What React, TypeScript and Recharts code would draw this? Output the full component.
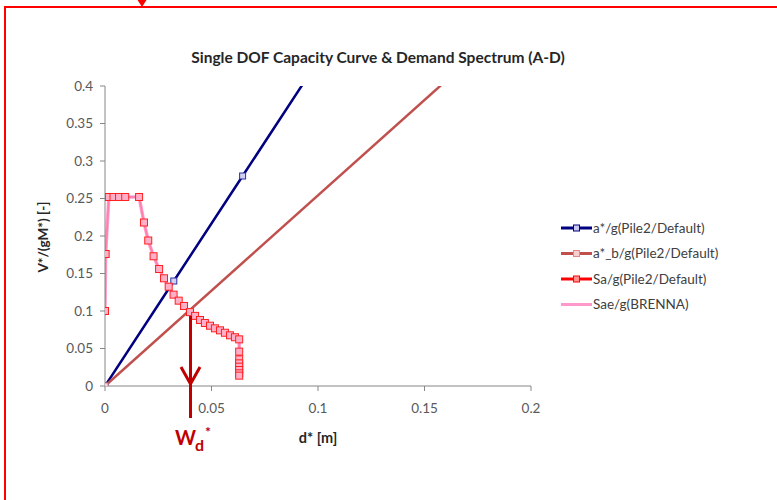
import React from "react";
import { LineChart, Line, XAxis, YAxis, Legend } from "recharts";

// capacity curve a*/g
const capD = [0, 0.0323, 0.0646, 0.0969];
const capA = [0, 0.14, 0.28, 0.42];

// bilinear a*_b/g
const bilD = [0, 0.19];
const bilA = [0, 0.483];

// demand spectrum Sa/g (same as Sae/g BRENNA)
const specD = [
  0, 0.0003, 0.0018, 0.004, 0.0066, 0.0095, 0.016, 0.0183, 0.0203, 0.0228, 0.0254, 0.0277,
  0.0299, 0.0322, 0.0346, 0.0371, 0.0399, 0.0423, 0.0446, 0.0469, 0.0493, 0.0516, 0.054,
  0.0563, 0.0587, 0.061, 0.063, 0.063, 0.063, 0.063, 0.063, 0.063, 0.063, 0.063,
];
const specA = [
  0.1, 0.176, 0.252, 0.252, 0.252, 0.252, 0.252, 0.218, 0.194, 0.173, 0.156, 0.1436,
  0.1324, 0.1218, 0.1138, 0.1067, 0.0985, 0.0935, 0.088, 0.084, 0.0804, 0.0769, 0.0742,
  0.071, 0.0676, 0.065, 0.0622, 0.0458, 0.0356, 0.0302, 0.0258, 0.0213, 0.0169, 0.0138,
];

const xTicks = [0, 0.05, 0.1, 0.15, 0.2];
const yTicks = [0, 0.05, 0.1, 0.15, 0.2, 0.25, 0.3, 0.35, 0.4];

const seriesNames = [
  "a*/g(Pile2/Default)",
  "a*_b/g(Pile2/Default)",
  "Sa/g(Pile2/Default)",
  "Sae/g(BRENNA)",
];

const capacity = capD.map((d, i) => ({ d, v: capA[i] }));
const bilinear = bilD.map((d, i) => ({ d, v: bilA[i] }));
const spectrum = specD.map((d, i) => ({ d, v: specA[i] }));

const FONT = "Lato, 'Open Sans', sans-serif";

const squareDot = (stroke: string, fill: string, s = 6) => (props: any) => {
  const { cx, cy, index } = props;
  if (cx == null || cy == null) return <g key={index} />;
  return (
    <rect key={index} x={cx - s / 2} y={cy - s / 2} width={s} height={s} fill={fill} stroke={stroke} strokeWidth={1} />
  );
};

const legendRows = [
  { name: seriesNames[0], color: "#000080", marker: "#000080", mfill: "#c8c8f0" },
  { name: seriesNames[1], color: "#c0504d", marker: "#e08a88", mfill: "#f4d0d0" },
  { name: seriesNames[2], color: "#ff0000", marker: "#ff0000", mfill: "#ff9090" },
  { name: seriesNames[3], color: "#ff99cc", marker: null, mfill: "" },
];

const LegendBox = () => (
  <svg width={200} height={110}>
    {legendRows.map((r, i) => {
      const y = 8 + i * 25.5;
      return (
        <g key={r.name}>
          <line x1={1} x2={32} y1={y} y2={y} stroke={r.color} strokeWidth={3} />
          {r.marker && (
            <rect x={13.5} y={y - 3} width={6} height={6} fill={r.mfill} stroke={r.marker} strokeWidth={1} />
          )}
          <text x={33} y={y + 4.5} fontSize={13.5} fontFamily={FONT} fill="#404040">
            {r.name}
          </text>
        </g>
      );
    })}
  </svg>
);

export default function App() {
  return (
    <div style={{ position: "absolute", left: 0, top: 0, width: 777, height: 500, background: "#fff" }}>
      <LineChart
        width={777}
        height={500}
        margin={{ top: 86, right: 246, left: 0, bottom: 84 }}
      >
        <XAxis
          type="number"
          dataKey="d"
          domain={[0, 0.2]}
          ticks={xTicks}
          allowDataOverflow
          height={30}
          tickSize={5}
          tickMargin={12}
          stroke="#868686"
          tick={{ fill: "#595959", fontSize: 13.5, fontFamily: FONT }}
        />
        <YAxis
          type="number"
          dataKey="v"
          domain={[0, 0.4]}
          ticks={yTicks}
          allowDataOverflow
          width={105}
          tickSize={5}
          tickMargin={7}
          stroke="#868686"
          tick={{ fill: "#595959", fontSize: 13.5, fontFamily: FONT }}
        />
        <Legend
          layout="vertical"
          align="center"
          verticalAlign="middle"
          wrapperStyle={{ left: 560, top: 220, width: 200, height: 110 }}
          content={() => <LegendBox />}
        />
        <Line
          data={capacity}
          dataKey="v"
          name={seriesNames[0]}
          stroke="#000080"
          strokeWidth={2.5}
          dot={squareDot("#3030a0", "#d0d0f0")}
          isAnimationActive={false}
        />
        <Line
          data={bilinear}
          dataKey="v"
          name={seriesNames[1]}
          stroke="#c0504d"
          strokeWidth={2.5}
          dot={squareDot("#e07a78", "#f6d6d6")}
          isAnimationActive={false}
        />
        <Line
          data={spectrum}
          dataKey="v"
          name={seriesNames[2]}
          stroke="#ff0000"
          strokeWidth={2}
          dot={squareDot("#ff2020", "#ffb0c8", 7)}
          isAnimationActive={false}
        />
        <Line
          data={spectrum}
          dataKey="v"
          name={seriesNames[3]}
          stroke="#ff99cc"
          strokeWidth={3.5}
          strokeOpacity={0.85}
          dot={false}
          isAnimationActive={false}
        />
      </LineChart>
      <svg
        width={777}
        height={500}
        style={{ position: "absolute", left: 0, top: 0, pointerEvents: "none" }}
      >
        <path d="M 5 502 L 5 7 L 779 7" fill="none" stroke="#ff0000" strokeWidth={2} />
        <polygon points="137.5,0 146.5,0 142,7" fill="#ff0000" />
        <text x={378} y={63} textAnchor="middle" fontSize={15.5} fontWeight="bold" fontFamily={FONT} fill="#262626">
          Single DOF Capacity Curve &amp; Demand Spectrum (A-D)
        </text>
        <text
          x={48}
          y={237}
          transform="rotate(-90 48 237)"
          textAnchor="middle"
          fontSize={13.5}
          fontWeight="bold"
          fontFamily={FONT}
          fill="#262626"
        >
          V*/(gM*) [-]
        </text>
        <text x={318} y={443} textAnchor="middle" fontSize={14.5} fontWeight="bold" fontFamily={FONT} fill="#262626">
          d* [m]
        </text>
        <line x1={190.5} x2={190.5} y1={316} y2={418} stroke="#c00000" strokeWidth={3} />
        <polyline points="181,367 190.5,384 200,367" fill="none" stroke="#c00000" strokeWidth={3} />
        <text x={175} y={445} fontSize={20} fontWeight="bold" fontFamily={FONT} fill="#c00000">
          W
        </text>
        <text x={195} y={451} fontSize={16} fontWeight="bold" fontFamily={FONT} fill="#c00000">
          d
        </text>
        <text x={205} y={437} fontSize={14} fontWeight="bold" fontFamily={FONT} fill="#c00000">
          *
        </text>
      </svg>
    </div>
  );
}
